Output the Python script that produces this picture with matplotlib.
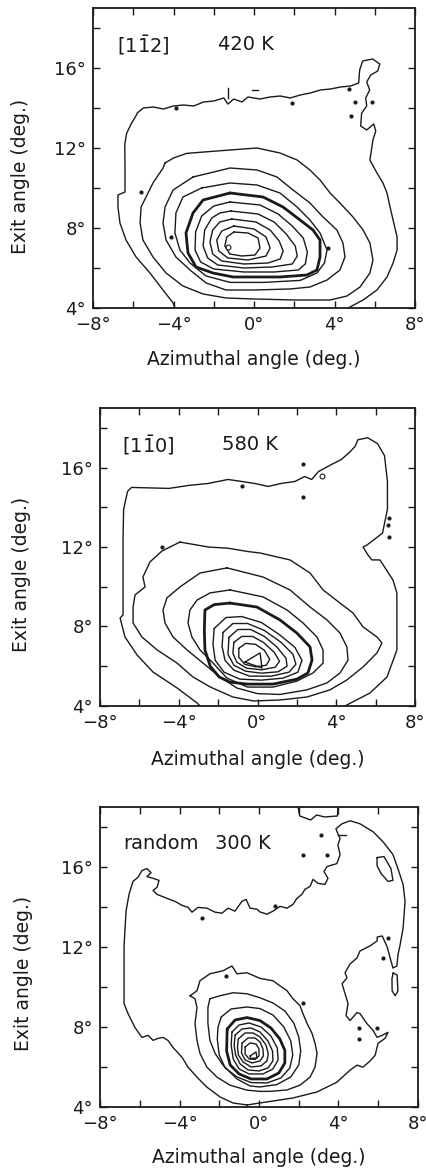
import matplotlib
matplotlib.use("Agg")
import matplotlib.pyplot as plt
import matplotlib.ticker as ticker

# ---------------------------------------------------------------
# contour lines, (azimuth, exit angle)
# ---------------------------------------------------------------

# panel 1 : [1-12] 420 K
p1_outer = [(-3.93, 4.0), (-4.02, 4.25), (-4.52, 4.9), (-5.17, 5.75), (-5.86, 6.55), (-6.36, 7.4),
            (-6.66, 8.25), (-6.76, 9.05), (-6.76, 9.65), (-6.41, 9.8), (-6.41, 11.06), (-6.42, 12.2),
            (-6.33, 12.73), (-6.09, 13.23), (-5.84, 13.65), (-5.8, 13.75), (-5.5, 14.0), (-5.0, 14.05),
            (-4.5, 13.95), (-4.0, 14.1), (-3.5, 14.15), (-3.0, 14.1), (-2.5, 14.3), (-2.0, 14.35),
            (-1.5, 14.5), (-1.3, 14.2), (-1.0, 14.45), (-0.6, 14.3), (-0.3, 14.55), (0.3, 14.45),
            (0.8, 14.55), (1.3, 14.6), (1.8, 14.5), (2.3, 14.65), (2.8, 14.75), (3.3, 14.9),
            (3.8, 14.95), (4.3, 15.05), (4.8, 15.1), (5.2, 15.25), (5.25, 15.9), (5.4, 16.35),
            (5.9, 16.45), (6.25, 16.2), (6.15, 15.85), (5.8, 15.65), (5.6, 15.3), (5.75, 14.9),
            (5.55, 14.5), (5.6, 14.1), (5.35, 13.75), (5.3, 13.1), (5.6, 12.9), (5.95, 13.2),
            (6.05, 12.85), (5.91, 12.4), (5.76, 11.4), (6.11, 10.75), (6.41, 10.25), (6.61, 9.75),
            (6.76, 9.05), (6.91, 8.4), (7.11, 7.55), (7.11, 6.9), (6.91, 6.25), (6.61, 5.55),
            (6.11, 4.9), (5.42, 4.4), (4.77, 4.05), (4.7, 4.0)]
p1_c2 = [(-4.42, 11.25), (-4.0, 11.5), (-3.35, 11.73), (-2.35, 11.81), (-1.19, 11.9), (0.15, 12.0),
         (1.29, 11.75), (2.14, 11.4), (2.78, 10.9), (3.28, 10.4), (3.78, 9.75), (4.27, 9.25),
         (4.92, 8.55), (5.42, 7.9), (5.76, 7.25), (5.91, 6.4), (5.76, 5.75), (5.27, 5.05),
         (4.62, 4.6), (3.78, 4.4), (2.0, 4.4), (0.0, 4.45), (-1.39, 4.5), (-2.53, 4.7),
         (-3.53, 5.1), (-4.37, 5.75), (-5.02, 6.55), (-5.52, 7.4), (-5.66, 8.25), (-5.61, 9.05),
         (-5.02, 10.25), (-4.52, 11.0)]
p1_c3 = [(-3.03, 10.55), (-2.0, 10.8), (-1.19, 11.0), (0.15, 10.9), (1.14, 10.55), (1.94, 9.9),
         (2.78, 9.25), (3.43, 8.55), (4.12, 7.9), (4.42, 7.25), (4.52, 6.55), (4.27, 5.9),
         (3.63, 5.4), (2.78, 5.05), (1.79, 4.95), (0.0, 4.9), (-1.39, 4.9), (-2.38, 5.25),
         (-3.18, 5.9), (-3.88, 6.55), (-4.37, 7.4), (-4.52, 8.25), (-4.42, 9.05), (-4.02, 9.9)]
p1_c4 = [(-2.6, 10.0), (-1.19, 10.25), (0.15, 10.15), (1.29, 9.75), (2.14, 9.05), (2.78, 8.4),
         (3.28, 7.75), (3.63, 6.9), (3.5, 6.25), (3.13, 5.75), (2.3, 5.38), (0.5, 5.28),
         (-1.19, 5.28), (-2.38, 5.6), (-3.18, 6.25), (-3.68, 6.9), (-3.93, 7.75), (-3.88, 8.75),
         (-3.53, 9.55)]
p1_thick = [(-1.19, 9.75), (0.45, 9.55), (1.44, 9.05), (2.29, 8.4), (2.93, 7.9), (3.28, 7.4),
            (3.28, 6.55), (3.13, 5.9), (2.63, 5.65), (1.29, 5.55), (-0.35, 5.55), (-1.04, 5.55),
            (-2.04, 5.75), (-2.88, 6.05), (-3.28, 6.75), (-3.38, 7.75), (-3.03, 8.75), (-2.53, 9.4)]
p1_c6 = [(-1.2, 9.3), (0.3, 9.15), (1.2, 8.7), (1.9, 8.1), (2.45, 7.5), (2.65, 6.8), (2.55, 6.2),
         (2.2, 5.9), (1.0, 5.8), (-0.5, 5.8), (-2.0, 5.95), (-2.65, 6.3), (-2.93, 6.9), (-2.9, 7.8),
         (-2.6, 8.6), (-2.0, 9.1)]
p1_c7 = [(-1.15, 8.85), (0.2, 8.7), (1.0, 8.3), (1.6, 7.7), (2.05, 7.1), (2.15, 6.6), (1.9, 6.2),
         (0.9, 6.05), (-0.5, 6.0), (-1.8, 6.15), (-2.3, 6.5), (-2.53, 7.1), (-2.45, 7.9), (-2.1, 8.5),
         (-1.7, 8.75)]
p1_c8 = [(-1.1, 8.45), (0.1, 8.3), (0.8, 7.9), (1.25, 7.35), (1.45, 6.85), (1.3, 6.45), (0.7, 6.25),
         (-0.5, 6.2), (-1.6, 6.35), (-2.05, 6.7), (-2.19, 7.3), (-2.05, 7.9), (-1.7, 8.3)]
p1_c9 = [(-1.0, 8.1), (0.0, 7.95), (0.6, 7.55), (0.8, 7.0), (0.6, 6.6), (-0.3, 6.4), (-1.3, 6.5),
         (-1.75, 6.85), (-1.85, 7.4), (-1.6, 7.85)]
p1_c10 = [(-1.0, 7.8), (-0.3, 7.75), (0.2, 7.5), (0.3, 7.0), (0.05, 6.65), (-0.6, 6.6), (-1.2, 6.7),
          (-1.45, 7.1), (-1.35, 7.55)]
p1_dots = [(-5.61, 9.8), (-4.12, 7.55), (-3.9, 14.0), (1.9, 14.25), (4.7, 14.95), (5.0, 14.3),
           (4.8, 13.6), (5.85, 14.3), (3.7, 7.0)]
p1_peak = [(-1.29, 7.05)]

# panel 2 : [1-10] 580 K
p2_outer = [(-2.92, 4.0), (-3.07, 4.15), (-4.09, 4.91), (-5.31, 5.71), (-6.12, 6.57), (-6.73, 7.47),
            (-6.98, 8.43), (-6.83, 8.58), (-6.83, 10.5), (-6.83, 12.35), (-6.8, 13.9), (-6.6, 14.8),
            (-6.4, 15.0), (-4.5, 14.95), (-3.5, 15.1), (-2.5, 15.2), (-1.5, 15.4), (-0.8, 15.3),
            (-0.15, 15.2), (0.55, 15.05), (1.2, 15.2), (1.9, 15.3), (2.4, 15.55), (2.75, 15.4),
            (3.1, 15.8), (3.75, 16.15), (4.25, 16.4), (4.6, 16.7), (4.95, 17.05), (5.1, 17.4),
            (5.6, 17.5), (6.1, 17.2), (6.45, 16.6), (6.6, 15.3), (6.6, 13.9), (6.35, 12.7),
            (5.56, 12.1), (5.36, 12.0), (5.61, 11.6), (5.81, 11.35), (6.22, 11.35), (6.88, 10.34),
            (7.08, 9.69), (7.08, 8.18), (7.08, 6.82), (6.58, 5.46), (5.71, 4.65), (4.54, 4.05),
            (4.45, 4.0)]
p2_c2 = [(-3.94, 12.25), (-2.5, 12.0), (-1.5, 11.94), (-0.47, 11.77), (0.13, 11.7), (1.65, 11.35),
         (2.67, 10.69), (3.33, 9.84), (4.19, 9.18), (4.85, 8.68), (5.36, 7.98), (6.07, 7.47),
         (6.32, 7.17), (6.07, 6.67), (5.36, 5.96), (4.54, 5.31), (3.68, 4.81), (2.51, 4.45),
         (1.14, 4.3), (-0.2, 4.25), (-1.25, 4.45), (-2.41, 4.96), (-3.28, 5.46), (-4.09, 6.16),
         (-5.1, 6.82), (-5.87, 7.47), (-6.32, 8.18), (-6.32, 8.98), (-6.22, 9.59), (-5.71, 9.99),
         (-5.82, 10.49), (-5.46, 11.25), (-4.85, 11.8)]
p2_c3 = [(-1.55, 10.95), (0.28, 10.49), (1.65, 9.84), (2.67, 8.98), (3.53, 8.33), (4.19, 7.67),
         (4.54, 6.97), (4.6, 6.31), (4.19, 5.66), (3.53, 5.16), (2.51, 4.81), (1.14, 4.58),
         (0.0, 4.62), (-1.04, 4.9), (-1.91, 5.46), (-2.77, 6.16), (-3.58, 6.82), (-4.29, 7.47),
         (-4.7, 8.18), (-4.8, 8.83), (-4.6, 9.44), (-3.94, 9.99), (-2.92, 10.69)]
p2_c4 = [(-1.4, 9.84), (0.28, 9.49), (1.5, 8.83), (2.31, 8.18), (3.02, 7.47), (3.33, 6.82),
         (3.33, 6.16), (2.82, 5.66), (2.0, 5.25), (0.79, 4.95), (-0.5, 4.95), (-1.55, 5.4),
         (-2.26, 6.16), (-2.92, 6.82), (-3.33, 7.47), (-3.53, 8.18), (-3.43, 8.83), (-3.07, 9.33),
         (-2.41, 9.69)]
p2_thick = [(-1.4, 9.18), (-0.03, 8.98), (1.14, 8.33), (2.0, 7.67), (2.67, 6.97), (2.77, 6.31),
            (2.56, 5.66), (2.0, 5.35), (0.79, 5.1), (-0.53, 5.1), (-1.4, 5.2), (-1.95, 5.46),
            (-2.4, 6.0), (-2.67, 6.82), (-2.7, 7.8), (-2.67, 8.83), (-2.2, 9.1)]
p2_r1 = [(-2.2, 7.9), (-1.6, 8.45), (-0.8, 8.5), (0.2, 8.2), (1.1, 7.6), (1.9, 6.95), (2.26, 6.3),
         (2.05, 5.7), (1.3, 5.4), (0.2, 5.3), (-0.9, 5.35), (-1.7, 5.7), (-2.15, 6.3), (-2.26, 7.1)]
p2_r2 = [(-1.75, 7.7), (-1.25, 8.15), (-0.5, 8.15), (0.35, 7.8), (1.2, 7.2), (1.8, 6.6), (1.95, 6.1),
         (1.6, 5.7), (0.7, 5.5), (-0.4, 5.5), (-1.2, 5.8), (-1.65, 6.3), (-1.8, 7.0)]
p2_r3 = [(-1.45, 7.45), (-1.0, 7.85), (-0.35, 7.85), (0.35, 7.5), (1.0, 6.95), (1.45, 6.4),
         (1.5, 6.0), (1.05, 5.72), (0.2, 5.65), (-0.6, 5.75), (-1.2, 6.05), (-1.5, 6.6)]
p2_r4 = [(-1.2, 7.2), (-0.8, 7.5), (-0.25, 7.5), (0.3, 7.2), (0.85, 6.7), (1.12, 6.25), (0.9, 5.95),
         (0.2, 5.82), (-0.55, 5.9), (-1.05, 6.2), (-1.25, 6.65)]
p2_r5 = [(-0.95, 6.9), (-0.6, 7.15), (-0.1, 7.1), (0.35, 6.8), (0.62, 6.35), (0.45, 6.05),
         (-0.1, 5.97), (-0.65, 6.1), (-0.95, 6.45)]
p2_r6 = [(-0.64, 6.21), (0.13, 6.67), (0.23, 5.91)]
p2_dots = [(-0.8, 15.05), (2.3, 16.2), (2.3, 14.5), (6.7, 13.45), (6.65, 13.1), (6.7, 12.5),
           (-4.85, 12.0)]
p2_rings = [(3.3, 15.55)]

# panel 3 : random 300 K
p3_outer = [(-0.6, 4.1), (-1.31, 4.2), (-1.96, 4.5), (-2.62, 4.99), (-3.12, 5.49), (-3.57, 5.99),
            (-3.87, 6.48), (-4.33, 6.98), (-4.58, 7.33), (-4.83, 7.48), (-5.08, 7.43), (-5.33, 7.33),
            (-5.58, 7.58), (-5.89, 7.48), (-6.24, 7.97), (-6.59, 8.67), (-6.79, 9.17), (-6.79, 12.05),
            (-6.69, 13.79), (-6.54, 14.63), (-6.34, 15.28), (-6.09, 15.48), (-5.89, 15.82),
            (-5.64, 15.92), (-5.43, 15.72), (-5.64, 15.52), (-5.33, 15.43), (-5.03, 15.33),
            (-5.13, 14.98), (-5.33, 14.83), (-5.13, 14.63), (-4.63, 14.43), (-4.23, 14.28),
            (-3.87, 14.08), (-3.57, 13.98), (-3.37, 13.74), (-3.07, 13.98), (-2.62, 13.94),
            (-2.21, 13.74), (-1.86, 13.69), (-1.56, 13.94), (-1.21, 13.79), (-0.86, 14.28),
            (-0.65, 14.38), (-0.45, 13.94), (-0.1, 13.89), (0.05, 13.75), (0.4, 13.64), (0.7, 13.79),
            (1.06, 14.03), (1.41, 13.94), (1.71, 14.13), (1.91, 14.43), (2.16, 14.63), (2.31, 14.88),
            (2.57, 15.03), (2.72, 15.38), (2.97, 15.18), (3.32, 15.13), (3.47, 15.43), (3.27, 15.77),
            (3.42, 16.02), (3.92, 16.17), (4.08, 16.62), (3.97, 17.11), (4.08, 17.41), (3.97, 17.66),
            (3.87, 17.91), (4.18, 18.16), (4.58, 18.31), (5.08, 18.16), (5.74, 17.76), (6.24, 17.26),
            (6.74, 16.62), (6.99, 15.92), (7.25, 15.13), (7.35, 14.28), (7.25, 12.94), (7.09, 12.05),
            (6.99, 11.6), (6.94, 11.05), (6.74, 10.95), (6.6, 11.45), (6.45, 12.0), (6.2, 12.55),
            (5.95, 12.5), (5.94, 12.3), (5.58, 12.05), (5.08, 11.8), (4.93, 11.45), (4.58, 11.15),
            (4.33, 10.71), (4.43, 10.46), (4.18, 10.16), (4.33, 9.66), (4.48, 9.17), (4.38, 8.57),
            (4.58, 8.32), (4.93, 8.72), (5.08, 8.67), (5.43, 8.17), (5.74, 7.83), (5.94, 7.48),
            (6.19, 7.58), (6.49, 7.73), (6.34, 7.43), (5.99, 7.18), (5.84, 6.58), (5.58, 6.29),
            (5.23, 5.99), (4.93, 6.09), (4.58, 5.84), (3.92, 5.24), (2.92, 4.75), (1.71, 4.45),
            (0.05, 4.2)]
p3_top_loop = [(1.95, 19.1), (2.05, 18.55), (2.6, 18.35), (2.9, 18.6), (3.3, 18.5), (3.95, 18.55),
               (3.97, 19.1)]
p3_side_loop = [(5.94, 16.47), (6.29, 16.52), (6.64, 15.92), (6.74, 15.33), (6.49, 15.28),
                (6.14, 15.67), (5.94, 16.07)]
p3_low_loop = [(6.75, 10.7), (6.95, 10.6), (6.99, 9.8), (6.85, 9.56), (6.7, 9.8), (6.69, 10.4)]
p3_c2 = [(-3.47, 9.56), (-3.12, 9.81), (-2.97, 10.31), (-2.47, 10.66), (-1.81, 10.81), (-1.36, 11.05),
         (-1.11, 10.66), (-0.6, 10.71), (0.05, 10.43), (0.7, 10.31), (1.41, 9.81), (1.71, 9.41),
         (2.06, 9.07), (2.21, 8.67), (2.42, 8.17), (2.67, 7.68), (2.82, 7.18), (2.92, 6.68),
         (2.82, 5.99), (2.57, 5.49), (2.06, 5.09), (1.41, 4.85), (0.55, 4.78), (0.05, 4.78),
         (-0.6, 4.84), (-1.46, 5.09), (-2.11, 5.49), (-2.62, 5.99), (-2.97, 6.68), (-3.12, 7.33),
         (-3.22, 8.17), (-3.12, 8.97), (-3.22, 9.41)]
p3_c3 = [(-2.47, 9.41), (-1.96, 9.56), (-1.31, 9.71), (-0.6, 9.66), (0.05, 9.46), (0.7, 9.2),
         (1.3, 8.8), (1.75, 8.2), (2.0, 7.5), (2.1, 6.8), (2.0, 6.1), (1.6, 5.5), (0.9, 5.12),
         (0.05, 5.0), (-0.45, 5.05), (-1.11, 5.4), (-1.81, 6.09), (-2.21, 6.68), (-2.47, 7.33),
         (-2.57, 8.17), (-2.57, 8.97)]
p3_c4 = [(-1.9, 8.5), (-1.4, 8.9), (-0.6, 9.0), (0.05, 8.92), (0.7, 8.6), (1.25, 8.0), (1.6, 7.3),
         (1.7, 6.6), (1.55, 5.95), (1.1, 5.45), (0.4, 5.2), (-0.4, 5.22), (-1.1, 5.5), (-1.7, 5.95),
         (-2.0, 6.6), (-2.1, 7.4), (-2.06, 8.0)]
p3_thick = [(-1.6, 7.9), (-1.2, 8.35), (-0.6, 8.47), (0.05, 8.32), (0.6, 7.95), (1.05, 7.4),
            (1.3, 6.83), (1.3, 6.2), (1.0, 5.7), (0.4, 5.4), (-0.4, 5.4), (-1.0, 5.65), (-1.45, 6.1),
            (-1.63, 6.8)]
p3_r1 = [(-1.36, 7.75), (-1.0, 8.1), (-0.5, 8.2), (0.1, 8.0), (0.6, 7.55), (0.92, 6.95), (0.96, 6.35),
         (0.7, 5.9), (0.2, 5.65), (-0.5, 5.65), (-1.0, 5.9), (-1.3, 6.4), (-1.4, 7.1)]
p3_r2 = [(-1.2, 7.6), (-0.85, 7.9), (-0.4, 7.95), (0.05, 7.75), (0.45, 7.3), (0.68, 6.8), (0.7, 6.3),
         (0.45, 5.95), (0.0, 5.8), (-0.55, 5.85), (-0.95, 6.15), (-1.18, 6.6), (-1.25, 7.1)]
p3_r3 = [(-1.04, 7.4), (-0.7, 7.7), (-0.3, 7.7), (0.05, 7.5), (0.35, 7.1), (0.47, 6.65), (0.4, 6.3),
         (0.1, 6.05), (-0.4, 6.0), (-0.8, 6.25), (-1.04, 6.6), (-1.08, 7.0)]
p3_r4 = [(-0.85, 7.2), (-0.55, 7.45), (-0.2, 7.45), (0.05, 7.25), (0.2, 6.9), (0.22, 6.55),
         (0.05, 6.3), (-0.35, 6.2), (-0.7, 6.35), (-0.88, 6.7)]
p3_r5 = [(-0.7, 7.0), (-0.45, 7.2), (-0.15, 7.15), (0.0, 6.9), (0.0, 6.55), (-0.2, 6.38),
         (-0.5, 6.4), (-0.7, 6.65)]
p3_r6 = [(-0.45, 6.55), (-0.15, 6.75), (-0.1, 6.45), (-0.4, 6.42)]
p3_dots = [(3.12, 17.61), (2.21, 16.62), (3.42, 16.62), (0.8, 14.03), (6.49, 12.45), (-2.87, 13.44),
           (2.21, 9.22), (5.03, 7.97), (5.03, 7.38), (5.94, 7.97), (6.24, 11.45), (-1.66, 10.56)]

titles = [(r"[1$\mathregular{\bar{1}}$2]", "420 K"), (r"[1$\mathregular{\bar{1}}$0]", "580 K"),
          ("random", "300 K")]
title_x = [(-6.8, -1.8), (-6.9, -1.8), (-6.85, -2.2)]

INK = "#1a1a1a"


def draw(ax, pts, closed=True, lw=1.0):
    xs = [p[0] for p in pts]
    ys = [p[1] for p in pts]
    if closed:
        xs.append(xs[0])
        ys.append(ys[0])
    ax.plot(xs, ys, color=INK, lw=lw, solid_joinstyle="round", solid_capstyle="round")


def dots(ax, pts, ms=2.2, mfc=INK):
    ax.plot([p[0] for p in pts], [p[1] for p in pts], "o", ms=ms, color=INK, mfc=mfc, mew=0.8)


def deg_fmt(v, pos):
    return f"{int(round(v))}°".replace("-", "\u2212")


fig = plt.figure(figsize=(4.27, 11.76), dpi=100)
fig.patch.set_facecolor("white")

# axes boxes (left, bottom, width, height)
boxes = [(0.2178, 0.7381, 0.7541, 0.2551),
         (0.2342, 0.3997, 0.7377, 0.2534),
         (0.2342, 0.0587, 0.7447, 0.2551)]

axes = [fig.add_axes(b) for b in boxes]

# --- panel 1 ---
ax = axes[0]
draw(ax, p1_outer, closed=False)
for c in [p1_c2, p1_c3, p1_c4, p1_c6, p1_c7, p1_c8, p1_c9, p1_c10]:
    draw(ax, c)
draw(ax, p1_thick, lw=2.0)
dots(ax, p1_dots)
dots(ax, p1_peak, ms=3.5, mfc="white")
ax.plot([-1.3, -1.3], [14.5, 15.0], color=INK, lw=1.0)
ax.plot([-0.1, 0.2], [14.9, 14.9], color=INK, lw=1.0)

# --- panel 2 ---
ax = axes[1]
draw(ax, p2_outer, closed=False)
for c in [p2_c2, p2_c3, p2_c4, p2_r1, p2_r2, p2_r3, p2_r4, p2_r5, p2_r6]:
    draw(ax, c)
draw(ax, p2_thick, lw=2.0)
dots(ax, p2_dots)
dots(ax, p2_rings, ms=3.5, mfc="white")

# --- panel 3 ---
ax = axes[2]
draw(ax, p3_outer)
for c in [p3_top_loop, p3_side_loop, p3_low_loop, p3_c2, p3_c3, p3_c4,
          p3_r1, p3_r2, p3_r3, p3_r4, p3_r5, p3_r6]:
    draw(ax, c)
draw(ax, p3_thick, lw=2.0)
dots(ax, p3_dots)
ax.plot([3.97, 4.38], [17.61, 17.61], color=INK, lw=1.0)

ylab_pos = [(-0.196, 0.437), (-0.22, 0.44), (-0.21, 0.444)]
xlab_pos = [-0.173, -0.181, -0.169]

for i, ax in enumerate(axes):
    ax.set_xlim(-8, 8)
    ax.set_ylim(4, 19)
    ax.xaxis.set_major_locator(ticker.MultipleLocator(4))
    ax.xaxis.set_minor_locator(ticker.MultipleLocator(2))
    ax.yaxis.set_major_locator(ticker.MultipleLocator(4))
    ax.yaxis.set_minor_locator(ticker.MultipleLocator(2))
    ax.xaxis.set_major_formatter(ticker.FuncFormatter(deg_fmt))
    ax.yaxis.set_major_formatter(ticker.FuncFormatter(deg_fmt))
    ax.tick_params(which="both", direction="in", top=True, right=True,
                   length=5, width=1.0, color=INK, labelsize=13, labelcolor=INK)
    ax.tick_params(axis="x", pad=6)
    ax.tick_params(axis="y", pad=5)
    for s in ax.spines.values():
        s.set_linewidth(1.3)
        s.set_color(INK)

    ax.set_ylabel("Exit angle (deg.)", fontsize=13.5, color=INK)
    ax.yaxis.set_label_coords(*ylab_pos[i])
    ax.set_xlabel("Azimuthal angle (deg.)", fontsize=13.5, color=INK)
    ax.xaxis.set_label_coords(0.5, xlab_pos[i])
    ax.xaxis.label.set_va("center")

    t1, t2 = titles[i]
    ax.text(title_x[i][0], 17.15, t1, fontsize=14, color=INK, va="center", ha="left")
    ax.text(title_x[i][1], 17.15, t2, fontsize=14, color=INK, va="center", ha="left")

plt.savefig("out.png", dpi=100)
plt.close()
